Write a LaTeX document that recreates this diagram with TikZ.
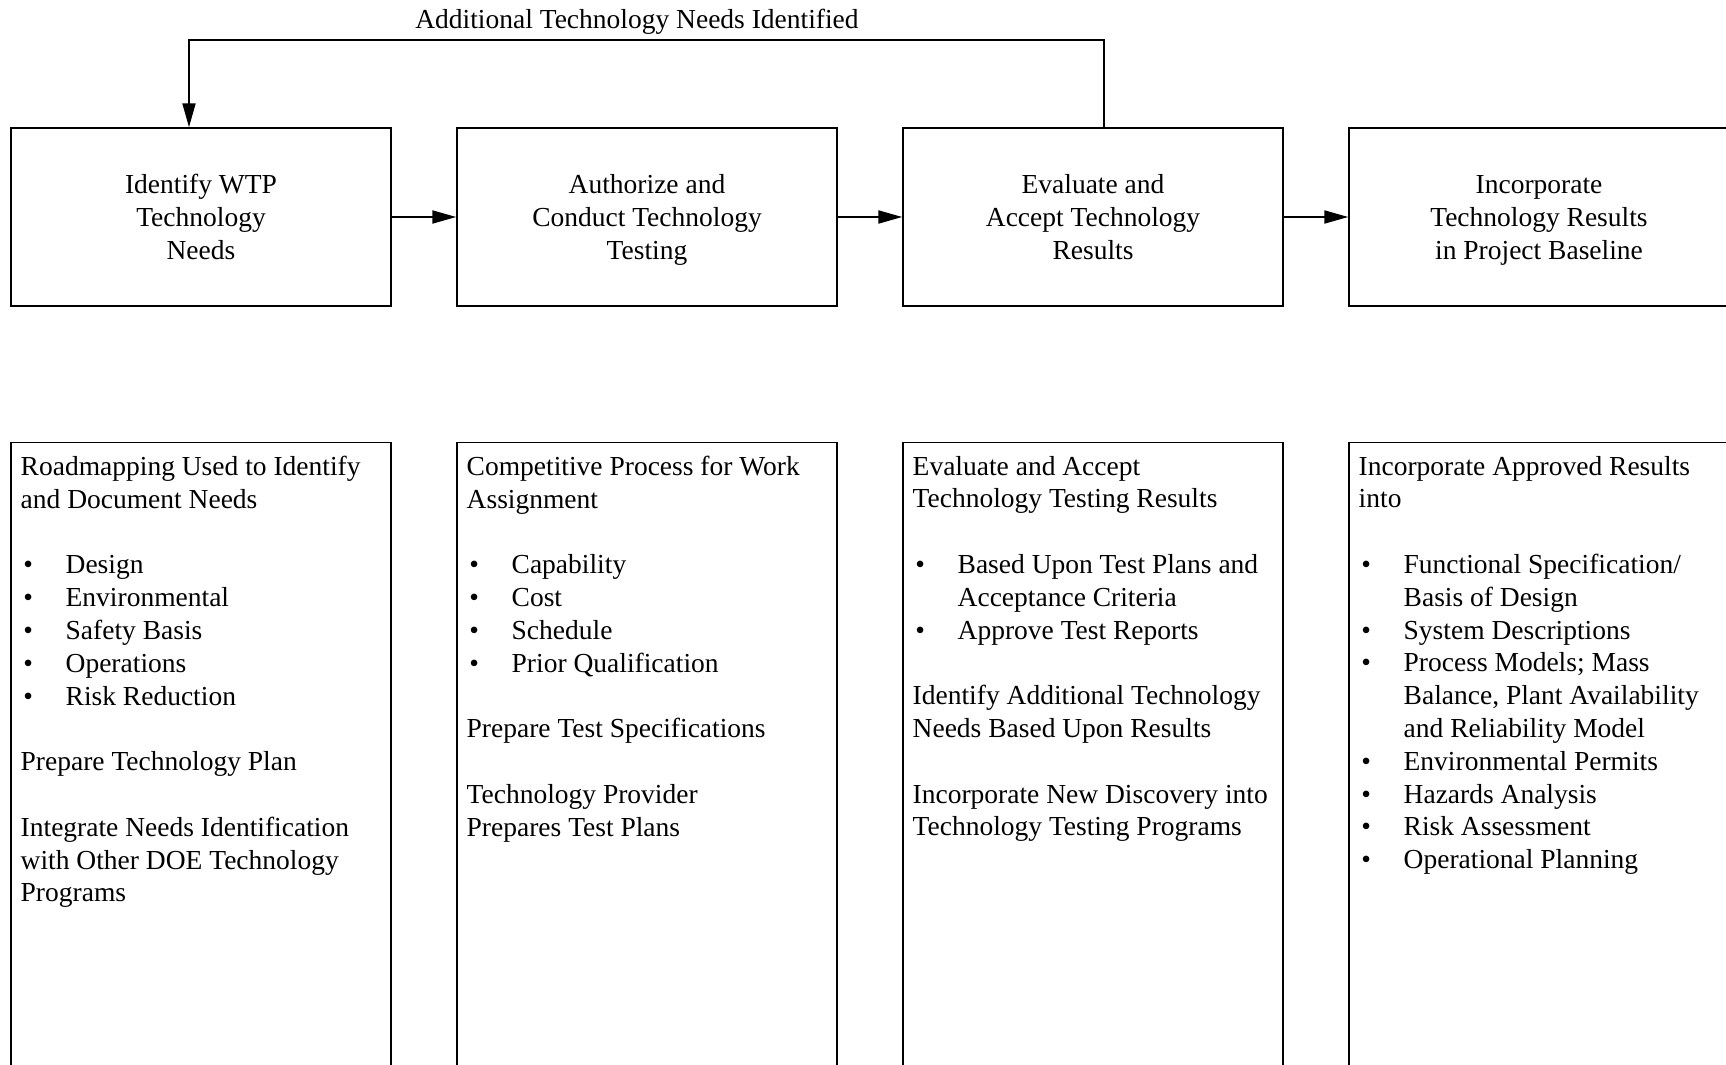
\documentclass[tikz,border=0pt]{standalone}
\usepackage{fontspec}
\setmainfont{Liberation Serif}
\usetikzlibrary{positioning,arrows.meta}
\tikzset{
  stage/.style={draw, line width=0.7pt, minimum width=190pt, minimum height=89pt,
    align=center, inner sep=0pt, font=\fontsize{13.75}{16.5}\selectfont},
  detail/.style={draw, line width=0.7pt, minimum width=190pt, minimum height=330pt,
    inner sep=0pt},
  detailtext/.style={align=left, inner sep=0pt, font=\fontsize{13.75}{16.4}\selectfont},
  flow/.style={line width=1pt, -{Triangle[length=12pt,width=6.5pt]}},
}
\newcommand{\bul}{\hspace*{1.3pt}\makebox[21.2pt][l]{\textbullet}}
\newcommand{\cont}{\hspace*{22.5pt}}

\begin{document}
\begin{tikzpicture}[x=0.5pt,y=-0.5pt]
\useasboundingbox (0,0) rectangle (1726,1065);
\clip (0,0) rectangle (1726,1065);
% process stages
\node[stage] (b1) at (201,217) {Identify WTP\\Technology\\Needs};
\node[stage, right=32.3pt of b1] (b2) {Authorize and\\Conduct Technology\\\smash{Testing}};
\node[stage, right=32.3pt of b2] (b3) {Evaluate and\\Accept Technology\\Results};
\node[stage, right=32.3pt of b3] (b4) {Incorporate\\Technology Results\\\smash{in Project Baseline}};
%
\draw[flow] (b1) -- (b2);
\draw[flow] (b2) -- (b3);
\draw[flow] (b3) -- (b4);
% feedback loop
\coordinate (fbR) at (1104,40);
\coordinate (fbL) at (189,40);
\draw[flow] (b3.north -| fbR) -- (fbR) -- (fbL) -- (b1.north -| fbL);
\node[font=\fontsize{13.75}{16.5}\selectfont] (fbtext) at (637,22) {Additional Technology Needs Identified};
% detail boxes
\node[detail, below=67.5pt of b1] (d1) {};
\node[detail, below=67.5pt of b2] (d2) {};
\node[detail, below=67.5pt of b3] (d3) {};
\node[detail, below=67.5pt of b4] (d4) {};
%
\node[detailtext, below right=7pt and 5pt of d1.north west] (t1) {%
Roadmapping Used to Identify\\
and Document Needs\\[16.4pt]
\bul Design\\
\bul Environmental\\
\bul Safety Basis\\
\bul Operations\\
\bul Risk Reduction\\[16.4pt]
Prepare Technology Plan\\[16.4pt]
Integrate Needs Identification\\
with Other DOE Technology\\
Programs};
\node[detailtext, below right=7pt and 5pt of d2.north west] (t2) {%
Competitive Process for Work\\
Assignment\\[16.4pt]
\bul Capability\\
\bul Cost\\
\bul Schedule\\
\bul Prior Qualification\\[16.4pt]
Prepare Test Specifications\\[16.4pt]
Technology Provider\\
Prepares Test Plans};
\node[detailtext, below right=7pt and 5pt of d3.north west] (t3) {%
Evaluate and Accept\\
Technology Testing Results\\[16.4pt]
\bul Based Upon Test Plans and\\
\cont Acceptance Criteria\\
\bul Approve Test Reports\\[16.4pt]
Identify Additional Technology\\
Needs Based Upon Results\\[16.4pt]
Incorporate New Discovery into\\
Technology Testing Programs};
\node[detailtext, below right=7pt and 5pt of d4.north west] (t4) {%
Incorporate Approved Results\\
into\\[16.4pt]
\bul Functional Specification/\\
\cont Basis of Design\\
\bul System Descriptions\\
\bul Process Models; Mass\\
\cont Balance, Plant Availability\\
\cont and Reliability Model\\
\bul Environmental Permits\\
\bul Hazards Analysis\\
\bul Risk Assessment\\
\bul Operational Planning};
\end{tikzpicture}
\end{document}
